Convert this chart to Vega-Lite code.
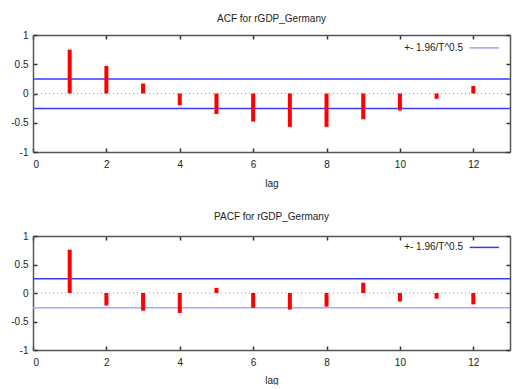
{
  "$schema": "https://vega.github.io/schema/vega-lite/v6.json",
  "background": "white",
  "padding": {"left": 10, "right": 4, "top": 14, "bottom": 0},
  "spacing": 24,
  "config": {
    "font": "Liberation Sans",
    "view": {"stroke": null},
    "title": {"fontSize": 10, "fontWeight": "normal", "color": "#222"},
    "axis": {
      "grid": false,
      "ticks": true,
      "zindex": 2,
      "domainColor": "#555",
      "domainWidth": 1.5,
      "tickColor": "#333",
      "tickWidth": 1.5,
      "tickSize": -4,
      "tickOpacity": 1,
      "labelFont": "Liberation Sans",
      "labelFontSize": 10,
      "labelColor": "#222",
      "titleFont": "Liberation Sans",
      "titleFontSize": 10,
      "titleFontWeight": "normal",
      "titleColor": "#222"
    }
  },
  "datasets": {
    "acf": [
      {"lag": 1, "value": 0.75},
      {"lag": 2, "value": 0.47},
      {"lag": 3, "value": 0.17},
      {"lag": 4, "value": -0.2},
      {"lag": 5, "value": -0.35},
      {"lag": 6, "value": -0.48},
      {"lag": 7, "value": -0.57},
      {"lag": 8, "value": -0.57},
      {"lag": 9, "value": -0.44},
      {"lag": 10, "value": -0.29},
      {"lag": 11, "value": -0.09},
      {"lag": 12, "value": 0.13}
    ],
    "pacf": [
      {"lag": 1, "value": 0.76},
      {"lag": 2, "value": -0.22},
      {"lag": 3, "value": -0.31},
      {"lag": 4, "value": -0.35},
      {"lag": 5, "value": 0.09},
      {"lag": 6, "value": -0.26},
      {"lag": 7, "value": -0.29},
      {"lag": 8, "value": -0.24},
      {"lag": 9, "value": 0.18},
      {"lag": 10, "value": -0.15},
      {"lag": 11, "value": -0.1},
      {"lag": 12, "value": -0.2}
    ],
    "one": [{}]
  },
  "vconcat": [
    {
      "title": {"text": "ACF for rGDP_Germany", "offset": 6},
      "width": 477,
      "height": 117,
      "layer": [
        {
          "data": {"name": "one"},
          "mark": {"type": "rule", "color": "#999", "strokeDash": [1, 3], "strokeWidth": 1},
          "encoding": {
            "y": {"datum": 0, "type": "quantitative", "scale": {"domain": [-1, 1]},
                  "axis": {"orient": "left", "values": [-1, -0.5, 0, 0.5, 1], "labelExpr": "'' + datum.value", "title": null, "labelPadding": 9}},
            "x": {"datum": 0, "type": "quantitative", "scale": {"domain": [0, 13], "nice": false},
                  "axis": {"orient": "bottom", "values": [0, 2, 4, 6, 8, 10, 12], "title": "lag", "labelPadding": 11, "titlePadding": 9}},
            "x2": {"datum": 13}
          }
        },
        {
          "data": {"name": "one"},
          "mark": {"type": "rule", "color": "#3a3aff", "strokeWidth": 1.5},
          "encoding": {
            "y": {"datum": 0.25, "type": "quantitative",
                  "axis": {"orient": "right", "values": [-1, -0.5, 0, 0.5, 1], "labels": false, "title": null}},
            "x": {"datum": 0, "type": "quantitative",
                  "axis": {"orient": "top", "values": [0, 2, 4, 6, 8, 10, 12], "labels": false, "title": null}},
            "x2": {"datum": 13}
          }
        },
        {
          "data": {"name": "one"},
          "mark": {"type": "rule", "color": "#3a3aff", "strokeWidth": 1.5},
          "encoding": {
            "y": {"datum": -0.255, "type": "quantitative", "axis": null},
            "x": {"datum": 0, "type": "quantitative", "axis": null},
            "x2": {"datum": 13}
          }
        },
        {
          "data": {"name": "acf"},
          "mark": {"type": "rule", "color": "#ff0000", "strokeWidth": 4},
          "encoding": {
            "x": {"field": "lag", "type": "quantitative", "axis": null},
            "y": {"field": "value", "type": "quantitative", "axis": null},
            "y2": {"datum": 0}
          }
        },
        {
          "data": {"name": "one"},
          "mark": {"type": "text", "align": "right", "baseline": "middle", "fontSize": 10, "color": "#222", "text": "+- 1.96/T^0.5"},
          "encoding": {
            "x": {"datum": 11.72, "type": "quantitative", "axis": null},
            "y": {"datum": 0.78, "type": "quantitative", "axis": null}
          }
        },
        {
          "data": {"name": "one"},
          "mark": {"type": "rule", "color": "#a0a0ff", "strokeWidth": 1.5},
          "encoding": {
            "x": {"datum": 11.9, "type": "quantitative", "axis": null},
            "x2": {"datum": 12.7},
            "y": {"datum": 0.78, "type": "quantitative", "axis": null}
          }
        }
      ]
    },
    {
      "title": {"text": "PACF for rGDP_Germany", "offset": 9},
      "width": 477,
      "height": 114,
      "layer": [
        {
          "data": {"name": "one"},
          "mark": {"type": "rule", "color": "#999", "strokeDash": [1, 3], "strokeWidth": 1},
          "encoding": {
            "y": {"datum": 0, "type": "quantitative", "scale": {"domain": [-1, 1]},
                  "axis": {"orient": "left", "values": [-1, -0.5, 0, 0.5, 1], "labelExpr": "'' + datum.value", "title": null, "labelPadding": 9}},
            "x": {"datum": 0, "type": "quantitative", "scale": {"domain": [0, 13], "nice": false},
                  "axis": {"orient": "bottom", "values": [0, 2, 4, 6, 8, 10, 12], "title": "lag", "labelPadding": 11, "titlePadding": 8}},
            "x2": {"datum": 13}
          }
        },
        {
          "data": {"name": "one"},
          "mark": {"type": "rule", "color": "#3a3aff", "strokeWidth": 1.5},
          "encoding": {
            "y": {"datum": 0.25, "type": "quantitative",
                  "axis": {"orient": "right", "values": [-1, -0.5, 0, 0.5, 1], "labels": false, "title": null}},
            "x": {"datum": 0, "type": "quantitative",
                  "axis": {"orient": "top", "values": [0, 2, 4, 6, 8, 10, 12], "labels": false, "title": null}},
            "x2": {"datum": 13}
          }
        },
        {
          "data": {"name": "one"},
          "mark": {"type": "rule", "color": "#a8a8ff", "strokeWidth": 1.5},
          "encoding": {
            "y": {"datum": -0.26, "type": "quantitative", "axis": null},
            "x": {"datum": 0, "type": "quantitative", "axis": null},
            "x2": {"datum": 13}
          }
        },
        {
          "data": {"name": "pacf"},
          "mark": {"type": "rule", "color": "#ff0000", "strokeWidth": 4},
          "encoding": {
            "x": {"field": "lag", "type": "quantitative", "axis": null},
            "y": {"field": "value", "type": "quantitative", "axis": null},
            "y2": {"datum": 0}
          }
        },
        {
          "data": {"name": "one"},
          "mark": {"type": "text", "align": "right", "baseline": "middle", "fontSize": 10, "color": "#222", "text": "+- 1.96/T^0.5"},
          "encoding": {
            "x": {"datum": 11.72, "type": "quantitative", "axis": null},
            "y": {"datum": 0.8, "type": "quantitative", "axis": null}
          }
        },
        {
          "data": {"name": "one"},
          "mark": {"type": "rule", "color": "#3a3aff", "strokeWidth": 1.5},
          "encoding": {
            "x": {"datum": 11.9, "type": "quantitative", "axis": null},
            "x2": {"datum": 12.7},
            "y": {"datum": 0.8, "type": "quantitative", "axis": null}
          }
        }
      ]
    }
  ]
}
